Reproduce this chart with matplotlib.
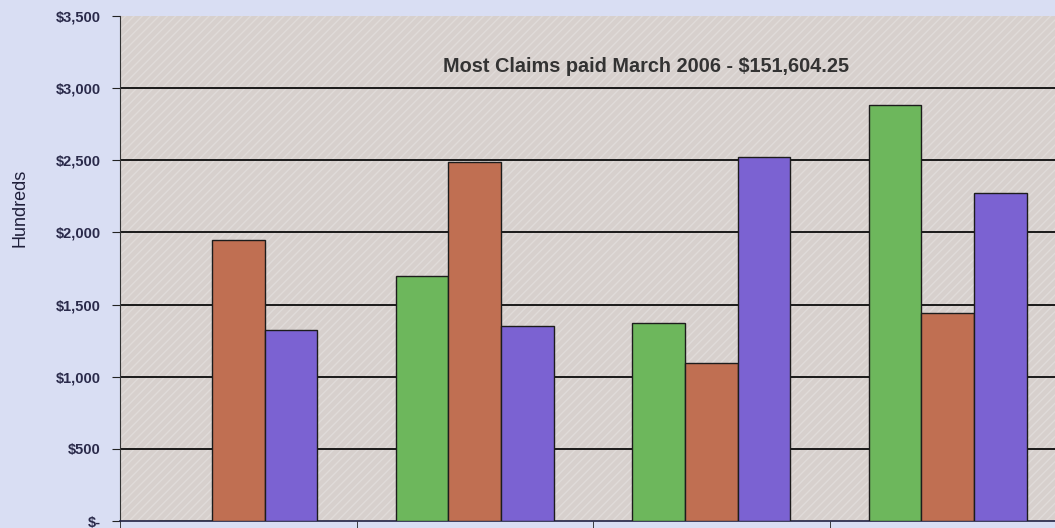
import matplotlib.pyplot as plt
import numpy as np
from matplotlib.patches import Rectangle
from matplotlib.ticker import FixedLocator

# values in hundreds of dollars
groups = [0, 1, 2, 3]
green_vals = [0, 1700, 1375, 2880]
brown_vals = [1950, 2490, 1095, 1440]
purple_vals = [1325, 1350, 2520, 2275]
y_ticks = [0, 500, 1000, 1500, 2000, 2500, 3000, 3500]
y_labels = ['$-', '$500', '$1,000', '$1,500', '$2,000', '$2,500', '$3,000', '$3,500']
note = 'Most Claims paid March 2006 - $151,604.25'

plt.rcParams['font.family'] = ['Liberation Sans', 'DejaVu Sans']

fig = plt.figure(figsize=(10.55, 5.28), dpi=100)
fig.patch.set_facecolor('#d9def3')

# axes runs a bit past the right edge like in the original picture
ax = fig.add_axes([120/1055, 7/528, 946/1055, 505/528])
ax.set_facecolor('#d7d0cd')
ax.set_xlim(-0.5, 3.5)
ax.set_ylim(0, 3500)

# faint diagonal texture of the plot area
tex = Rectangle((0, 0), 1, 1, transform=ax.transAxes, facecolor='none',
                edgecolor='#e0dbd9', hatch='////', linewidth=0, zorder=0.5)
ax.add_patch(tex)

w = 1 / 4.5
x = np.array(groups)
ax.bar(x - w, green_vals, w, color='#6db75c', edgecolor='#1c1c1c', linewidth=1.0, zorder=3)
ax.bar(x, brown_vals, w, color='#c06f52', edgecolor='#1c1c1c', linewidth=1.0, zorder=3)
ax.bar(x + w, purple_vals, w, color='#7b62d2', edgecolor='#1c1c1c', linewidth=1.0, zorder=3)

ax.set_yticks(y_ticks)
ax.set_yticklabels(y_labels, fontsize=10.5, fontweight='bold', color='#2a2a4a')
for yv in y_ticks[1:-1]:
    ax.axhline(yv, color='#1a1a1a', linewidth=1.4, zorder=2)

ax.set_xticks([])
ax.xaxis.set_minor_locator(FixedLocator([-0.5, 0.5, 1.5, 2.5, 3.5]))
ax.tick_params(axis='x', which='minor', length=6, color='#222222')
ax.tick_params(axis='y', length=6, color='#222222', pad=8)

for s in ['top', 'right']:
    ax.spines[s].set_visible(False)
ax.spines['left'].set_color('#333333')
ax.spines['bottom'].set_color('#222244')
ax.spines['bottom'].set_linewidth(1.2)

fig.text(20/1055, 1 - 208/528, 'Hundreds', rotation=90, ha='center', va='center',
         fontsize=13, color='#1f1f3a')

ax.text(0.556, 3153, note, transform=ax.get_yaxis_transform(), ha='center', va='center',
        fontsize=14.3, fontweight='bold', color='#333333', zorder=4)

fig.savefig('out.png', dpi=100, facecolor=fig.get_facecolor())
